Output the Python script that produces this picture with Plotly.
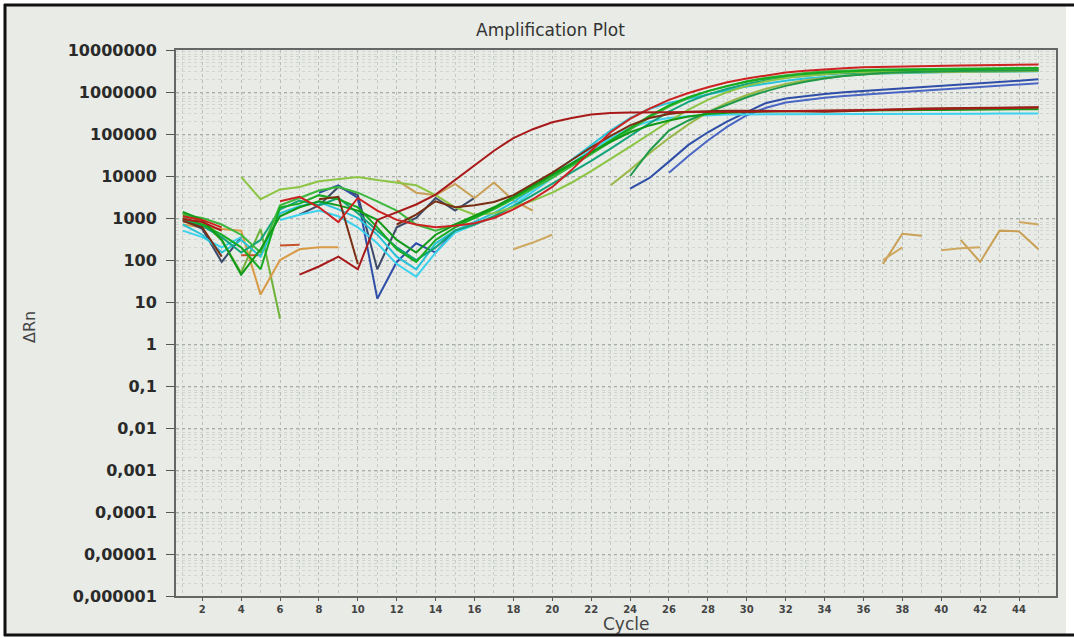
import plotly.graph_objects as go

N = None
cycles = list(range(1, 46))

red_early = [950, 800, 500, N, N, N, 45, 70, 120, 60,
             900, 1400, 2100, 3600, 8000, 18000, 40000, 80000, 130000, 190000,
             240000, 290000, 315000, 325000, 330000, 335000, 335000, 335000, 338000, 340000,
             345000, 350000, 355000, 360000, 365000, 370000, 375000, 380000, 385000, 390000,
             400000, 405000, 415000, 420000, 430000]
red_late = [1100, 900, 600, N, N, 2500, 3200, 1800, 800, 3000,
            1500, 900, 700, 600, 650, 750, 1000, 1600, 2800, 5500,
            14000, 40000, 110000, 230000, 400000, 650000, 950000, 1300000, 1700000, 2100000,
            2500000, 2900000, 3200000, 3500000, 3700000, 3900000, 4000000, 4100000, 4200000, 4250000,
            4300000, 4350000, 4400000, 4450000, 4500000]
brown = [850, 600, 120, N, N, N, N, 2800, 3200, 80,
         N, 700, 1200, 2500, 1800, 2000, 2400, 3500, 6500, 12000,
         24000, 48000, 90000, 160000, 240000, 300000, 340000, 355000, 360000, 360000,
         355000, 350000, 345000, 340000, 350000, 365000, 380000, 395000, 405000, 410000,
         415000, 420000, 425000, 430000, 435000]
green_low = [1400, 900, 300, 45, 180, 1100, 1800, 2500, 2000, 1500,
             900, 300, 150, 400, 700, 1100, 1800, 3200, 6000, 11000,
             20000, 37000, 65000, 110000, 160000, 210000, 260000, 300000, 320000, 335000,
             345000, 350000, 355000, 360000, 362000, 365000, 368000, 370000, 372000, 375000,
             378000, 380000, 383000, 386000, 390000]
green_up = [1000, 700, 400, 200, 60, 1800, 2200, 3500, 2800, 1800,
            600, 180, 90, 300, 600, 1000, 1700, 3000, 5500, 10000,
            19000, 36000, 70000, 140000, 270000, 480000, 750000, 1050000, 1400000, 1750000,
            2100000, 2400000, 2700000, 2900000, 3100000, 3200000, 3300000, 3350000, 3400000, 3450000,
            3500000, 3550000, 3600000, 3650000, 3700000]
green_mid = [1200, 1000, 700, 400, 150, 2000, 3000, 4500, 5500, 4000,
             2500, 1500, 700, 500, 700, 1000, 1600, 2800, 5000, 9000,
             17000, 33000, 65000, 130000, 250000, 450000, 720000, 1050000, 1400000, 1800000,
             2200000, 2550000, 2850000, 3100000, 3250000, 3350000, 3450000, 3500000, 3550000, 3600000,
             3650000, 3650000, 3700000, 3700000, 3750000]
lime = [N, N, N, 9500, 2800, 4800, 5500, 7500, 8500, 9500,
        8000, 7000, 6000, 3500, 1800, 1200, 1300, 1800, 2600, 4000,
        7000, 13000, 25000, 50000, 100000, 200000, 380000, 650000, 1000000, 1400000,
        1800000, 2150000, 2450000, 2700000, 2900000, 3000000, 3100000, 3150000, 3200000, 3250000,
        3300000, 3300000, 3350000, 3350000, 3400000]
teal = [900, 650, 350, 150, 300, 1600, 2600, 2000, 3000, 1300,
        500, 200, 100, 200, 500, 700, 1100, 1900, 3500, 6500,
        12000, 23000, 45000, 90000, 180000, 340000, 580000, 880000, 1200000, 1550000,
        1900000, 2200000, 2450000, 2650000, 2800000, 2900000, 3000000, 3050000, 3100000, 3150000,
        3150000, 3200000, 3200000, 3250000, 3250000]
cyan_up = [700, 400, 150, 300, 120, 1300, 1900, 2400, 1600, 1000,
           400, 120, 60, 250, 500, 800, 1300, 2400, 5000, 11000,
           24000, 55000, 120000, 240000, 400000, 550000, 700000, 900000, 1100000, 1350000,
           1600000, 1850000, 2100000, 2300000, 2500000, 2650000, 2750000, 2850000, 2900000, 2950000,
           3000000, 3000000, 3050000, 3050000, 3100000]
cyan_low = [500, 350, 200, 350, N, 900, 1200, 1500, 1100, 600,
            250, 80, 40, 150, 450, 700, 1100, 2000, 4200, 9000,
            20000, 42000, 80000, 140000, 200000, 240000, 265000, 280000, 290000, 293000,
            295000, 296000, 297000, 298000, 299000, 300000, 300000, 301000, 302000, 303000,
            304000, 305000, 306000, 307000, 308000]
green_late = [N] * 23 + [10000, 40000, 120000, 210000, 330000, 500000, 750000,
                         1050000, 1400000, 1750000, 2100000, 2400000, 2650000, 2850000, 2950000, 3050000, 3100000,
                         3150000, 3200000, 3250000, 3300000, 3300000]
olive_late = [N] * 22 + [6000, 14000, 35000, 80000, 170000, 330000, 560000, 850000,
                         1200000, 1550000, 1900000, 2200000, 2450000, 2650000, 2800000, 2900000, 2950000, 3000000,
                         3050000, 3100000, 3100000, 3150000, 3150000]
blue_a = [N, N, N, N, N, N, N, 4000, 6000, 3000,
          12, 90, 250, 150, 500, 700, N, N, N, N,
          N, N, N, 5000, 9000, 22000, 55000, 110000, 200000, 330000,
          550000, 700000, 800000, 900000, 980000, 1050000, 1120000, 1200000, 1270000, 1350000,
          1450000, 1570000, 1700000, 1850000, 2000000]
blue_b = [N] * 25 + [12000, 30000, 70000, 150000, 280000,
                     420000, 560000, 650000, 730000, 800000, 870000, 940000, 1000000, 1070000, 1150000,
                     1230000, 1320000, 1420000, 1520000, 1620000]
slate = [900, 550, 90, 350, N, N, 1200, 2000, 5500, 3500,
         60, 600, 1000, 3000, 1500, 3000] + [N] * 29
tan_a = [N] * 11 + [8000, 4000, 3500, 6500, 3000, 7000, 2600, 1500] + [N] * 17 + \
        [80, 420, 380, N, 300, 90, 500, 480, 180]
tan_b = [N] * 17 + [180, 260, 400] + [N] * 16 + [100, 200, N, 170, 190, 200, N, 800, 700]
orange = [700, 600, 550, 500, 15, 100, 180, 200, 200] + [N] * 36
olive_early = [1300, 800, 300, 50, 550, 4] + [N] * 39
dash_a = [N, N, N, 130, 130] + [N] * 40
dash_b = [N] * 5 + [220, 230] + [N] * 38

series = [
    ("olive_early", olive_early, "#6fb23a"),
    ("orange", orange, "#d99a45"),
    ("dash_a", dash_a, "#c8502a"),
    ("dash_b", dash_b, "#c8502a"),
    ("slate", slate, "#3d4a6a"),
    ("tan_a", tan_a, "#c9a056"),
    ("tan_b", tan_b, "#cfa860"),
    ("blue_a", blue_a, "#2f4ea8"),
    ("blue_b", blue_b, "#4a66c4"),
    ("cyan_low", cyan_low, "#3cd2ee"),
    ("cyan_up", cyan_up, "#28c2d8"),
    ("teal", teal, "#12a47a"),
    ("lime", lime, "#8cc444"),
    ("olive_late", olive_late, "#9ab84a"),
    ("green_late", green_late, "#1f9a4a"),
    ("green_mid", green_mid, "#3cb83c"),
    ("green_up", green_up, "#16ac22"),
    ("green_low", green_low, "#109a18"),
    ("brown", brown, "#7a2e12"),
    ("red_late", red_late, "#cc2222"),
    ("red_early", red_early, "#a81a1a"),
]

y_tickvals = [10 ** k for k in range(-6, 8)]
y_ticktext = ["0,000001", "0,00001", "0,0001", "0,001", "0,01", "0,1", "1",
              "10", "100", "1000", "10000", "100000", "1000000", "10000000"]
x_tickvals = list(range(2, 45, 2))

fig = go.Figure()
for name, vals, col in series:
    fig.add_trace(go.Scatter(x=cycles, y=vals, mode="lines", name=name,
                             line=dict(color=col, width=2), connectgaps=False,
                             showlegend=False, hoverinfo="skip"))

L, R, T, B = 176, 18, 50, 42
W, H = 1074, 638
pw, ph = W - L - R, H - T - B


def px(x):
    return (x - L) / pw


def py(y):
    return (H - B - y) / ph


fig.update_layout(
    width=W, height=H,
    margin=dict(l=L, r=R, t=T, b=B),
    paper_bgcolor="white",
    plot_bgcolor="#f2f4f1",
    font=dict(family="DejaVu Sans", color="#333"),
    showlegend=False,
    shapes=[
        dict(type="rect", xref="paper", yref="paper", x0=px(5), x1=px(1066), y0=py(635), y1=py(4),
             fillcolor="#e8ebe6", line=dict(width=0), layer="below"),
        dict(type="line", xref="paper", yref="paper", x0=px(4), x1=px(1074), y0=py(5), y1=py(5),
             line=dict(color="#111", width=3), layer="below"),
        dict(type="line", xref="paper", yref="paper", x0=px(5), x1=px(5), y0=py(636), y1=py(4),
             line=dict(color="#111", width=3), layer="below"),
        dict(type="line", xref="paper", yref="paper", x0=px(4), x1=px(1074), y0=py(635), y1=py(635),
             line=dict(color="#111", width=3), layer="below"),
    ],
    annotations=[
        dict(text="Amplification Plot", xref="paper", yref="paper", x=px(550), y=py(30),
             showarrow=False, font=dict(size=17, color="#333"), xanchor="center", yanchor="middle"),
        dict(text="Cycle", xref="paper", yref="paper", x=px(626), y=py(624),
             showarrow=False, font=dict(size=17, color="#444"), xanchor="center", yanchor="middle"),
        dict(text="ΔRn", xref="paper", yref="paper", x=px(29), y=py(327), textangle=-90,
             showarrow=False, font=dict(size=16, color="#444"), xanchor="center", yanchor="middle"),
    ],
)

fig.update_xaxes(
    range=[0.65, 45.9],
    tickmode="array", tickvals=x_tickvals,
    ticks="outside", ticklen=3, tickcolor="#555",
    tickfont=dict(size=10, color="#444", weight="bold"),
    showgrid=True, gridcolor="#b9beb9", griddash="dot", gridwidth=1,
    minor=dict(dtick=1, showgrid=True, gridcolor="#c8ccc8", griddash="dot", ticks=""),
    showline=True, linecolor="#666", linewidth=2, mirror=True,
    zeroline=False,
)
fig.update_yaxes(
    type="log", range=[-6, 7],
    tickmode="array", tickvals=y_tickvals, ticktext=y_ticktext,
    ticks="outside", ticklen=8, tickcolor="#555",
    ticklabelstandoff=6,
    tickfont=dict(size=16, color="#2a2a2a", weight="bold"),
    showgrid=True, gridcolor="#a8ada8", griddash="dot", gridwidth=1,
    minor=dict(dtick="D1", showgrid=True, gridcolor="#d2d6d2", griddash="dot", ticks=""),
    showline=True, linecolor="#666", linewidth=2, mirror=True,
    zeroline=False,
)

fig.write_html("out.html", config={"displayModeBar": False},
               post_script="document.body.style.margin='0';document.body.style.padding='0';")
